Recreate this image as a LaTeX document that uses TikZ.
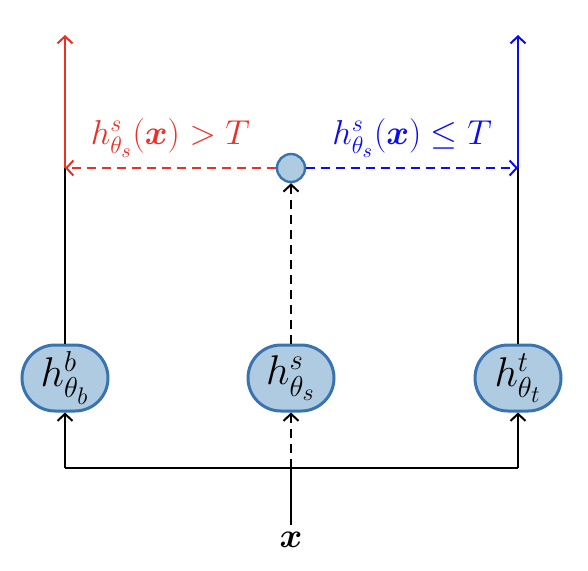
\documentclass[tikz,border=0pt]{standalone}
\usepackage{amsmath}
\usepackage{amssymb}
\usepackage{bm}
\usetikzlibrary{arrows,arrows.meta,positioning}
\definecolor{netfill}{RGB}{174,203,225}
\definecolor{netline}{RGB}{58,116,176}
\definecolor{highred}{RGB}{232,50,40}
\definecolor{lowblue}{RGB}{10,10,245}

\begin{document}
\begin{tikzpicture}[->,>={Straight Barb[length=3.5pt,width=7.5pt]},
                    x=0.5pt,y=-0.5pt,line width=1pt,
                    dash pattern=on 4.5pt off 3pt]
  \tikzstyle{net}=[draw=netline,fill=netfill,line width=1.5pt,solid,
                   rounded corners=16.5pt,minimum width=43pt,
                   minimum height=33pt,inner sep=0pt,font=\huge]
  \tikzstyle{gate}=[circle,draw=netline,fill=netfill,line width=1.2pt,solid,
                    minimum size=14pt,inner sep=0pt]
  \useasboundingbox (0,0) rectangle (588,570);

  \node[net]  (B)  at (65,378)  {$h^b_{\theta_b}$};
  \node[net]  (S)  at (291,378) {$h^s_{\theta_s}$};
  \node[net]  (Tt) at (518,378) {$h^t_{\theta_t}$};
  \node[gate] (G)  at (291,168) {};
  \node[font=\LARGE] (X) at (291,540) {$\bm{x}$};

  \coordinate (J)  at (291,468);
  \coordinate (Jb) at (65,468);
  \coordinate (Jt) at (518,468);
  \coordinate (Cb) at (65,168);
  \coordinate (Ct) at (518,168);
  \coordinate (Ob) at (65,35);
  \coordinate (Ot) at (518,35);

  % input
  \draw[-,solid] (X) -- (J);
  \draw[-,solid] (Jb) -- (Jt);
  \draw[solid] (Jb) -- (B);
  \draw[solid] (Jt) -- (Tt);
  \draw (J) -- (S);

  % gate
  \draw (S) -- (G);
  \draw[-,solid] (B) -- (Cb);
  \draw[-,solid] (Tt) -- (Ct);
  \draw[highred] (G) -- node[above=1.5pt,font=\LARGE,text=highred]
        {$h^s_{\theta_s}(\bm{x})>T$} (Cb);
  \draw[lowblue] (G) -- node[above=1.5pt,font=\LARGE,text=lowblue]
        {$h^s_{\theta_s}(\bm{x})\leq T$} (Ct);
  \draw[highred,solid] (Cb) -- (Ob);
  \draw[lowblue,solid] (Ct) -- (Ot);
\end{tikzpicture}
\end{document}
